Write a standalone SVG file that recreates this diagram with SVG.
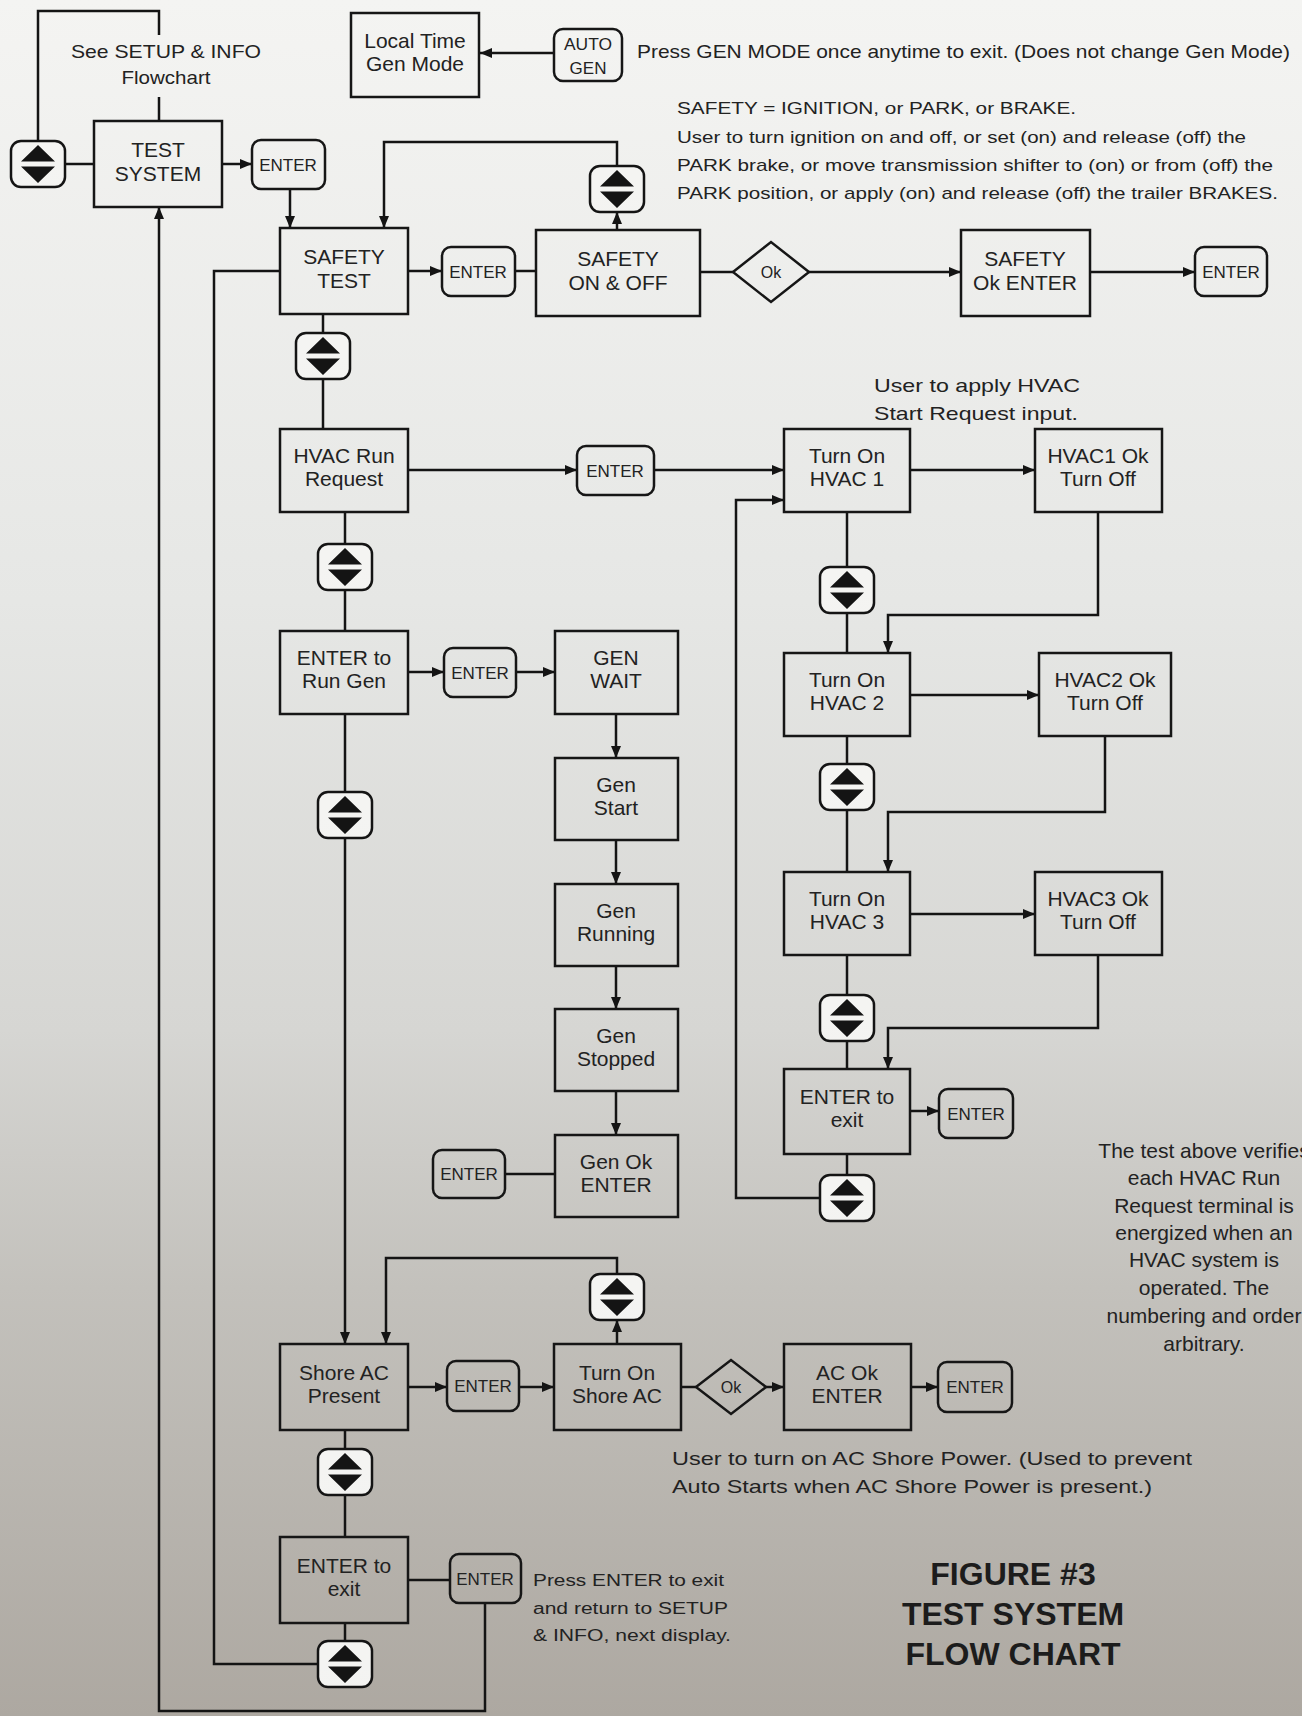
<svg xmlns="http://www.w3.org/2000/svg" xmlns:xlink="http://www.w3.org/1999/xlink" width="1302" height="1716" viewBox="0 0 1302 1716">
<defs>
<linearGradient id="bg" gradientUnits="userSpaceOnUse" x1="0" y1="0" x2="0" y2="1716">
<stop offset="0" stop-color="#f4f4f2"/>
<stop offset="0.35" stop-color="#e6e7e5"/>
<stop offset="0.6" stop-color="#d6d6d3"/>
<stop offset="0.75" stop-color="#c3c1bc"/>
<stop offset="1" stop-color="#ada8a1"/>
</linearGradient>
<marker id="ah" viewBox="0 0 12 10" refX="12" refY="5" markerWidth="12" markerHeight="10" markerUnits="userSpaceOnUse" orient="auto">
<path d="M0,0 L12,5 L0,10 Z" fill="#141414"/>
</marker>
<g id="ud">
<rect x="-27" y="-23" width="54" height="46" rx="10" ry="10" fill="url(#bg)" stroke="#141414" stroke-width="2.5"/>
<path d="M0,-19 L-17,-2.5 L17,-2.5 Z M-17,2.5 L17,2.5 L0,19 Z" fill="#141414"/>
</g>
<style>
.box{fill:url(#bg);stroke:#161616;stroke-width:2.5}
.btn{fill:url(#bg);stroke:#161616;stroke-width:2.5}
.c{fill:none;stroke:#141414;stroke-width:2.5}
.a{marker-end:url(#ah)}
text{font-family:"Liberation Sans",Arial,sans-serif;fill:#222222}
.t{font-size:21px;text-anchor:middle}
.b{font-size:17px;text-anchor:middle}
.n{font-size:17px}
.n19{font-size:19px}
.n16{font-size:16px}
.ok{font-size:16px;text-anchor:middle}
.fig{font-size:32px;font-weight:bold;text-anchor:middle;fill:#1c1c1c}
</style>
</defs>
<rect x="0" y="0" width="1302" height="1716" fill="url(#bg)"/>

<g id="connectors">
<path class="c a" d="M485,1603 V1711 H159 V207"/>
<path class="c" d="M280,271 H214 V1664 H318"/>
<path class="c" d="M38,141 V11 H159 V35 M159,97 V120"/>
<path class="c" d="M65,164 H94"/>
<path class="c a" d="M222,164 H252"/>
<path class="c a" d="M290,189 V228"/>
<path class="c a" d="M554,53 H480"/>
<path class="c a" d="M408,271 H442"/>
<path class="c" d="M515,271 H536"/>
<path class="c a" d="M617,230 V212"/>
<path class="c a" d="M617,166 V142 H384 V228"/>
<path class="c" d="M700,272 H733"/>
<path class="c a" d="M809,272 H961"/>
<path class="c a" d="M1090,272 H1195"/>
<path class="c" d="M323,314 V429"/>
<path class="c" d="M345,512 V631"/>
<path class="c a" d="M345,714 V1344"/>
<path class="c" d="M345,1430 V1537"/>
<path class="c" d="M345,1623 V1641"/>
<path class="c a" d="M408,470 H577"/>
<path class="c a" d="M654,470 H784"/>
<path class="c a" d="M910,470 H1035"/>
<path class="c a" d="M1098,512 V615 H888 V653"/>
<path class="c" d="M847,512 V653"/>
<path class="c a" d="M910,695 H1039"/>
<path class="c a" d="M1105,736 V812 H888 V872"/>
<path class="c" d="M847,736 V872"/>
<path class="c a" d="M910,914 H1035"/>
<path class="c a" d="M1098,955 V1028 H888 V1069"/>
<path class="c" d="M847,955 V1069"/>
<path class="c a" d="M910,1111 H939"/>
<path class="c" d="M847,1154 V1175"/>
<path class="c a" d="M820,1198 H736 V500 H784"/>
<path class="c a" d="M408,672 H444"/>
<path class="c a" d="M516,672 H555"/>
<path class="c a" d="M616,714 V758"/>
<path class="c a" d="M616,840 V884"/>
<path class="c a" d="M616,966 V1009"/>
<path class="c a" d="M616,1091 V1135"/>
<path class="c" d="M505,1174 H555"/>
<path class="c a" d="M617,1344 V1320"/>
<path class="c a" d="M617,1275 V1258 H386 V1344"/>
<path class="c a" d="M408,1387 H447"/>
<path class="c a" d="M519,1387 H554"/>
<path class="c" d="M681,1387 H696"/>
<path class="c a" d="M766,1387 H784"/>
<path class="c a" d="M911,1387 H938"/>
<path class="c" d="M408,1580 H450"/>
</g>

<g id="note-setup"><text class="n19" x="166" y="58" text-anchor="middle" textLength="190" lengthAdjust="spacingAndGlyphs">See SETUP &amp; INFO</text><text class="n19" x="166" y="84" text-anchor="middle" textLength="89" lengthAdjust="spacingAndGlyphs">Flowchart</text></g>

<g id="updown-left"><use xlink:href="#ud" x="38" y="164"/></g>
<g id="test-system"><rect class="box" x="94" y="121" width="128" height="86"/><text class="t" x="158" y="157">TEST</text><text class="t" x="158" y="181">SYSTEM</text></g>
<g id="enter-top"><rect class="btn" x="252" y="140" width="73" height="49" rx="9"/><text class="b" x="288" y="171">ENTER</text></g>

<g id="local-time"><rect class="box" x="351" y="13" width="128" height="84"/><text class="t" x="415" y="48">Local Time</text><text class="t" x="415" y="71">Gen Mode</text></g>
<g id="auto-gen"><rect class="btn" x="554" y="29" width="68" height="52" rx="9"/><text class="b" x="588" y="50" textLength="48" lengthAdjust="spacingAndGlyphs">AUTO</text><text class="b" x="588" y="74">GEN</text></g>
<text class="n19" x="637" y="58" textLength="653" lengthAdjust="spacingAndGlyphs">Press GEN MODE once anytime to exit. (Does not change Gen Mode)</text>

<g id="safety-note">
<text class="n" x="677" y="114" textLength="399" lengthAdjust="spacingAndGlyphs">SAFETY = IGNITION, or PARK, or BRAKE.</text>
<text class="n" x="677" y="143" textLength="569" lengthAdjust="spacingAndGlyphs">User to turn ignition on and off, or set (on) and release (off) the</text>
<text class="n" x="677" y="171" textLength="596" lengthAdjust="spacingAndGlyphs">PARK brake, or move transmission shifter to (on) or from (off) the</text>
<text class="n" x="677" y="199" textLength="601" lengthAdjust="spacingAndGlyphs">PARK position, or apply (on) and release (off) the trailer BRAKES.</text>
</g>

<g id="safety-test"><rect class="box" x="280" y="228" width="128" height="86"/><text class="t" x="344" y="264">SAFETY</text><text class="t" x="344" y="288">TEST</text></g>
<g id="enter-safety"><rect class="btn" x="442" y="247" width="73" height="49" rx="9"/><text class="b" x="478" y="278">ENTER</text></g>
<g id="safety-onoff"><rect class="box" x="536" y="230" width="164" height="86"/><text class="t" x="618" y="266">SAFETY</text><text class="t" x="618" y="290">ON &amp; OFF</text></g>
<g id="updown-safety"><use xlink:href="#ud" x="617" y="189"/></g>
<g id="ok-safety"><path class="box" d="M733,272 L771,242 L809,272 L771,302 Z"/><text class="ok" x="771" y="278">Ok</text></g>
<g id="safety-ok-enter"><rect class="box" x="961" y="230" width="129" height="86"/><text class="t" x="1025" y="266">SAFETY</text><text class="t" x="1025" y="290">Ok ENTER</text></g>
<g id="enter-safety-ok"><rect class="btn" x="1195" y="247" width="72" height="49" rx="9"/><text class="b" x="1231" y="278">ENTER</text></g>

<g id="updown-1"><use xlink:href="#ud" x="323" y="356"/></g>
<g id="hvac-run"><rect class="box" x="280" y="429" width="128" height="83"/><text class="t" x="344" y="463">HVAC Run</text><text class="t" x="344" y="486">Request</text></g>
<g id="enter-hvac"><rect class="btn" x="577" y="446" width="77" height="49" rx="9"/><text class="b" x="615" y="477">ENTER</text></g>
<text class="n19" x="874" y="392" textLength="206" lengthAdjust="spacingAndGlyphs">User to apply HVAC</text>
<text class="n19" x="874" y="420" textLength="204" lengthAdjust="spacingAndGlyphs">Start Request input.</text>
<g id="turn-on-hvac1"><rect class="box" x="784" y="429" width="126" height="83"/><text class="t" x="847" y="463">Turn On</text><text class="t" x="847" y="486">HVAC 1</text></g>
<g id="hvac1-ok"><rect class="box" x="1035" y="429" width="127" height="83"/><text class="t" x="1098" y="463">HVAC1 Ok</text><text class="t" x="1098" y="486">Turn Off</text></g>
<g id="updown-h1"><use xlink:href="#ud" x="847" y="590"/></g>
<g id="turn-on-hvac2"><rect class="box" x="784" y="653" width="126" height="83"/><text class="t" x="847" y="687">Turn On</text><text class="t" x="847" y="710">HVAC 2</text></g>
<g id="hvac2-ok"><rect class="box" x="1039" y="653" width="132" height="83"/><text class="t" x="1105" y="687">HVAC2 Ok</text><text class="t" x="1105" y="710">Turn Off</text></g>
<g id="updown-h2"><use xlink:href="#ud" x="847" y="787"/></g>
<g id="turn-on-hvac3"><rect class="box" x="784" y="872" width="126" height="83"/><text class="t" x="847" y="906">Turn On</text><text class="t" x="847" y="929">HVAC 3</text></g>
<g id="hvac3-ok"><rect class="box" x="1035" y="872" width="127" height="83"/><text class="t" x="1098" y="906">HVAC3 Ok</text><text class="t" x="1098" y="929">Turn Off</text></g>
<g id="updown-h3"><use xlink:href="#ud" x="847" y="1018"/></g>
<g id="hvac-exit"><rect class="box" x="784" y="1069" width="126" height="85"/><text class="t" x="847" y="1104">ENTER to</text><text class="t" x="847" y="1127">exit</text></g>
<g id="enter-hvac-exit"><rect class="btn" x="939" y="1089" width="74" height="49" rx="9"/><text class="b" x="976" y="1120">ENTER</text></g>
<g id="updown-h4"><use xlink:href="#ud" x="847" y="1198"/></g>

<g id="updown-2"><use xlink:href="#ud" x="345" y="567"/></g>
<g id="enter-run-gen"><rect class="box" x="280" y="631" width="128" height="83"/><text class="t" x="344" y="665">ENTER to</text><text class="t" x="344" y="688">Run Gen</text></g>
<g id="enter-gen"><rect class="btn" x="444" y="648" width="72" height="49" rx="9"/><text class="b" x="480" y="679">ENTER</text></g>
<g id="gen-wait"><rect class="box" x="555" y="631" width="123" height="83"/><text class="t" x="616" y="665">GEN</text><text class="t" x="616" y="688">WAIT</text></g>
<g id="gen-start"><rect class="box" x="555" y="758" width="123" height="82"/><text class="t" x="616" y="792">Gen</text><text class="t" x="616" y="815">Start</text></g>
<g id="gen-running"><rect class="box" x="555" y="884" width="123" height="82"/><text class="t" x="616" y="918">Gen</text><text class="t" x="616" y="941">Running</text></g>
<g id="gen-stopped"><rect class="box" x="555" y="1009" width="123" height="82"/><text class="t" x="616" y="1043">Gen</text><text class="t" x="616" y="1066">Stopped</text></g>
<g id="gen-ok-enter"><rect class="box" x="555" y="1135" width="123" height="82"/><text class="t" x="616" y="1169">Gen Ok</text><text class="t" x="616" y="1192">ENTER</text></g>
<g id="enter-gen-ok"><rect class="btn" x="433" y="1150" width="72" height="48" rx="9"/><text class="b" x="469" y="1180">ENTER</text></g>
<g id="updown-3"><use xlink:href="#ud" x="345" y="815"/></g>

<g id="updown-shore"><use xlink:href="#ud" x="617" y="1297"/></g>
<g id="shore-ac-present"><rect class="box" x="280" y="1344" width="128" height="86"/><text class="t" x="344" y="1380">Shore AC</text><text class="t" x="344" y="1403">Present</text></g>
<g id="enter-shore"><rect class="btn" x="447" y="1361" width="72" height="50" rx="9"/><text class="b" x="483" y="1392">ENTER</text></g>
<g id="turn-on-shore"><rect class="box" x="554" y="1344" width="127" height="86"/><text class="t" x="617" y="1380">Turn On</text><text class="t" x="617" y="1403">Shore AC</text></g>
<g id="ok-shore"><path class="box" d="M696,1387 L731,1360 L766,1387 L731,1414 Z"/><text class="ok" x="731" y="1393">Ok</text></g>
<g id="ac-ok-enter"><rect class="box" x="784" y="1344" width="127" height="86"/><text class="t" x="847" y="1380">AC Ok</text><text class="t" x="847" y="1403">ENTER</text></g>
<g id="enter-ac-ok"><rect class="btn" x="938" y="1362" width="74" height="50" rx="9"/><text class="b" x="975" y="1393">ENTER</text></g>
<text class="n19" x="672" y="1465" textLength="520" lengthAdjust="spacingAndGlyphs">User to turn on AC Shore Power. (Used to prevent</text>
<text class="n19" x="672" y="1493" textLength="480" lengthAdjust="spacingAndGlyphs">Auto Starts when AC Shore Power is present.)</text>

<g id="updown-4"><use xlink:href="#ud" x="345" y="1472"/></g>
<g id="enter-to-exit"><rect class="box" x="280" y="1537" width="128" height="86"/><text class="t" x="344" y="1573">ENTER to</text><text class="t" x="344" y="1596">exit</text></g>
<g id="enter-exit"><rect class="btn" x="450" y="1554" width="71" height="49" rx="9"/><text class="b" x="485" y="1585">ENTER</text></g>
<g id="updown-5"><use xlink:href="#ud" x="345" y="1664"/></g>
<g id="exit-note">
<text class="n16" x="533" y="1586" textLength="191" lengthAdjust="spacingAndGlyphs">Press ENTER to exit</text>
<text class="n16" x="533" y="1614" textLength="195" lengthAdjust="spacingAndGlyphs">and return to SETUP</text>
<text class="n16" x="533" y="1641" textLength="198" lengthAdjust="spacingAndGlyphs">&amp; INFO, next display.</text>
</g>

<g id="hvac-note" font-size="21">
<text x="1204" y="1158" text-anchor="middle">The test above verifies</text>
<text x="1204" y="1185" text-anchor="middle">each HVAC Run</text>
<text x="1204" y="1213" text-anchor="middle">Request terminal is</text>
<text x="1204" y="1240" text-anchor="middle">energized when an</text>
<text x="1204" y="1267" text-anchor="middle">HVAC system is</text>
<text x="1204" y="1295" text-anchor="middle">operated.  The</text>
<text x="1204" y="1323" text-anchor="middle">numbering and order</text>
<text x="1204" y="1351" text-anchor="middle">arbitrary.</text>
</g>

<g id="title">
<text class="fig" x="1013" y="1585">FIGURE #3</text>
<text class="fig" x="1013" y="1625">TEST SYSTEM</text>
<text class="fig" x="1013" y="1665">FLOW CHART</text>
</g>
</svg>
